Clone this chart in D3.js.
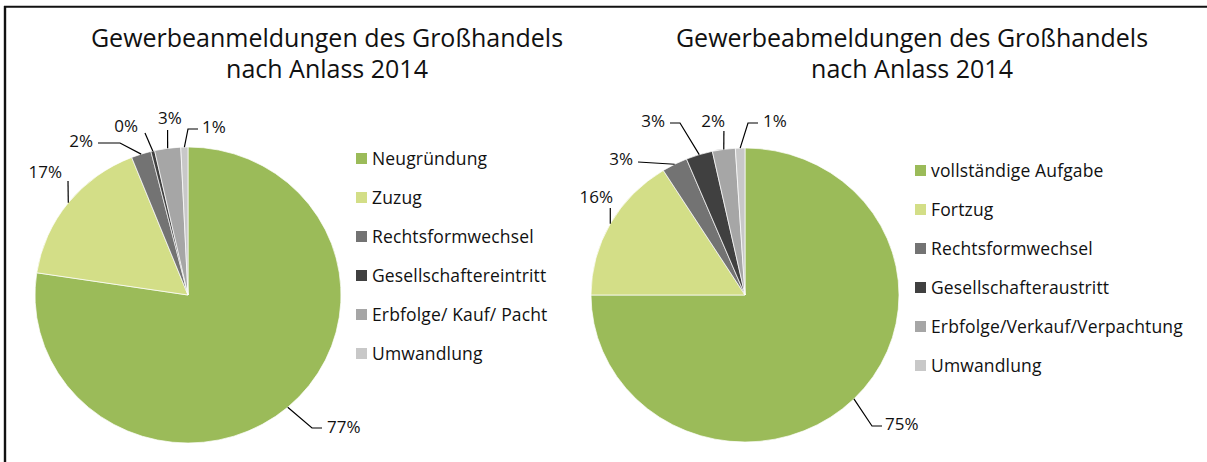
<!DOCTYPE html>
<html lang="de">
  <head>
    <meta charset="utf-8" />
    <title>Gewerbean- und -abmeldungen des Großhandels 2014</title>
    <script src="https://d3js.org/d3.v7.min.js"></script>
    <style>
      body { margin: 0; background: #fff; }
      svg { display: block; font-family: 'Open Sans', 'Noto Sans', sans-serif; }
    </style>
  </head>
  <body>
    <svg width="1207" height="462"></svg>
  </body>
  <script>
    // Data (shares in %)
    const anmeldungKategorien = ['Neugründung', 'Zuzug', 'Rechtsformwechsel',
      'Gesellschaftereintritt', 'Erbfolge/ Kauf/ Pacht', 'Umwandlung'];
    const anmeldungWerte = [77.4, 16.6, 2.1, 0.4, 2.75, 0.75];

    const abmeldungKategorien = ['vollständige Aufgabe', 'Fortzug', 'Rechtsformwechsel',
      'Gesellschafteraustritt', 'Erbfolge/Verkauf/Verpachtung', 'Umwandlung'];
    const abmeldungWerte = [75.0, 16.1, 2.7, 2.8, 2.4, 1.0];

    const titelLinks = ['Gewerbeanmeldungen des Großhandels', 'nach Anlass 2014'];
    const titelRechts = ['Gewerbeabmeldungen des Großhandels', 'nach Anlass 2014'];

    const farben = ['#9bbb59', '#d3de87', '#737373', '#404040', '#a6a6a6', '#c8c8c8'];

    const svg = d3.select('svg');

    // Frame (top and left edge only are visible)
    svg.append('line').attr('x1', 4).attr('x2', 1207).attr('y1', 6.8).attr('y2', 6.8)
      .attr('stroke', '#111').attr('stroke-width', 2);
    svg.append('line').attr('x1', 5).attr('x2', 5).attr('y1', 6).attr('y2', 462)
      .attr('stroke', '#111').attr('stroke-width', 2.4);

    // Label placement: text position and leader via-points (absolute px)
    const labelsLinks = [
      { x: 327, y: 433, anchor: 'start', via: [[312, 428], [322, 428]] },
      { x: 62, y: 178, anchor: 'end', via: [[68, 181]] },
      { x: 93, y: 147, anchor: 'end', via: [[120, 143], [98, 143]] },
      { x: 138, y: 132, anchor: 'end', via: [[145, 133]] },
      { x: 170, y: 124, anchor: 'middle', via: [[167.6, 130]] },
      { x: 202, y: 133, anchor: 'start', via: [[188, 129], [198, 129]] }
    ];
    const labelsRechts = [
      { x: 885, y: 430, anchor: 'start', via: [[872, 426], [882, 426]] },
      { x: 613, y: 203, anchor: 'end', via: [[610.3, 208]] },
      { x: 633, y: 165, anchor: 'end', via: [[638, 162]] },
      { x: 665, y: 127, anchor: 'end', via: [[680, 123], [670, 123]] },
      { x: 725, y: 127, anchor: 'end', via: [[723.9, 131]] },
      { x: 763, y: 127, anchor: 'start', via: [[748, 123], [758, 123]] }
    ];

    function drawPie(opt) {
      const pie = d3.pie().sort(null).value((d) => d);
      const arcs = pie(opt.values);
      const total = d3.sum(opt.values);
      const arc = d3.arc().innerRadius(0).outerRadius(opt.ry);
      const pct = d3.format('.0%');

      // Title
      svg.append('text')
        .attr('x', opt.titleX).attr('y', 47)
        .attr('text-anchor', 'middle')
        .attr('font-size', 25).attr('fill', '#111')
        .selectAll('tspan').data(opt.title).join('tspan')
        .attr('x', opt.titleX).attr('dy', (d, i) => i === 0 ? 0 : 31)
        .text((d) => d);

      // Slices (the picture is slightly wider than tall)
      svg.append('g')
        .attr('transform', `translate(${opt.cx}, ${opt.cy}) scale(${opt.rx / opt.ry}, 1)`)
        .selectAll('path').data(arcs).join('path')
        .attr('d', arc)
        .attr('fill', (d, i) => farben[i])
        .attr('stroke', '#fff').attr('stroke-width', 0.7)
        .attr('vector-effect', 'non-scaling-stroke');

      // Leader lines and percent labels
      const edge = (d) => {
        const a = (d.startAngle + d.endAngle) / 2;
        return [opt.cx + opt.rx * Math.sin(a), opt.cy - opt.ry * Math.cos(a)];
      };
      const line = d3.line();
      svg.append('g').selectAll('path').data(arcs).join('path')
        .attr('d', (d, i) => line([edge(d), ...opt.labels[i].via]))
        .attr('fill', 'none').attr('stroke', '#000').attr('stroke-width', 1.2);
      svg.append('g').selectAll('text').data(arcs).join('text')
        .attr('x', (d, i) => opt.labels[i].x)
        .attr('y', (d, i) => opt.labels[i].y)
        .attr('text-anchor', (d, i) => opt.labels[i].anchor)
        .attr('font-size', 17).attr('fill', '#111')
        .text((d) => pct(d.data / total));

      // Legend
      const legend = svg.append('g').selectAll('g').data(opt.categories).join('g')
        .attr('transform', (d, i) => `translate(${opt.legendX}, ${opt.legendY + i * 39})`);
      legend.append('rect')
        .attr('x', 0).attr('y', -5).attr('width', 11).attr('height', 11)
        .attr('fill', (d, i) => farben[i]);
      legend.append('text')
        .attr('x', 16).attr('y', 6.5)
        .attr('font-size', 17.5).attr('letter-spacing', 0.15).attr('fill', '#111')
        .text((d) => d);
    }

    drawPie({
      title: titelLinks, titleX: 327,
      values: anmeldungWerte, categories: anmeldungKategorien,
      cx: 188, cy: 295, rx: 153, ry: 148,
      labels: labelsLinks, legendX: 356, legendY: 158
    });
    drawPie({
      title: titelRechts, titleX: 912,
      values: abmeldungWerte, categories: abmeldungKategorien,
      cx: 745, cy: 295, rx: 154, ry: 147,
      labels: labelsRechts, legendX: 915, legendY: 170
    });
  </script>
</html>
